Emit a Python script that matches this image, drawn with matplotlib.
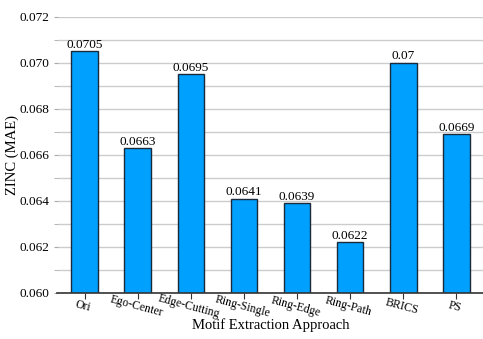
import matplotlib
matplotlib.use("Agg")
import matplotlib.pyplot as plt
from matplotlib.ticker import MultipleLocator, FormatStrFormatter

methods = ["Ori", "Ego-Center", "Edge-Cutting", "Ring-Single", "Ring-Edge",
           "Ring-Path", "BRICS", "PS"]
mae = [0.0705, 0.0663, 0.0695, 0.0641, 0.0639, 0.0622, 0.07, 0.0669]
mae_labels = ["0.0705", "0.0663", "0.0695", "0.0641", "0.0639", "0.0622", "0.07", "0.0669"]

plt.rcParams["font.family"] = ["Liberation Serif", "DejaVu Serif"]

fig = plt.figure(figsize=(4.83, 3.39), dpi=100)
ax = fig.add_axes([0.120, 0.136, 0.88, 0.814])

x = range(len(methods))
bars = ax.bar(x, mae, width=0.5, color="#00a0ff", edgecolor="#1a2a3a",
              linewidth=1.0, zorder=3)
for b, lab in zip(bars, mae_labels):
    ax.text(b.get_x() + b.get_width() / 2, b.get_height() + 0.00002, lab,
            ha="center", va="bottom", fontsize=9.5, zorder=4)

ax.set_ylim(0.060, 0.072)
ax.set_xlim(-0.5, 7.5)
ax.yaxis.set_major_locator(MultipleLocator(0.002))
ax.yaxis.set_minor_locator(MultipleLocator(0.001))
ax.yaxis.set_major_formatter(FormatStrFormatter("%.3f"))
ax.grid(True, axis="y", which="both", color="#cccccc", lw=1.0, zorder=0)
ax.tick_params(axis="y", which="both", length=3, color="#aaaaaa",
               labelsize=9.5, pad=3)

ax.set_xticks(list(x))
ax.set_xticklabels(methods, rotation=-15, ha="center", va="top",
                   rotation_mode="anchor", fontsize=8.5)
ax.tick_params(axis="x", length=4, color="#333333", pad=1.5)

for s in ["top", "right", "left"]:
    ax.spines[s].set_visible(False)
ax.spines["bottom"].set_color("#333333")
ax.spines["bottom"].set_linewidth(1.2)
ax.spines["bottom"].set_zorder(5)
ax.spines["bottom"].set_bounds(-0.52, 7.5)

ax.set_ylabel("ZINC (MAE)", fontsize=10.5)
ax.set_xlabel("Motif Extraction Approach", fontsize=10.5)
ax.yaxis.set_label_coords(-0.092, 0.5)
ax.xaxis.set_label_coords(0.5, -0.093)

fig.savefig("out.png", dpi=100)
